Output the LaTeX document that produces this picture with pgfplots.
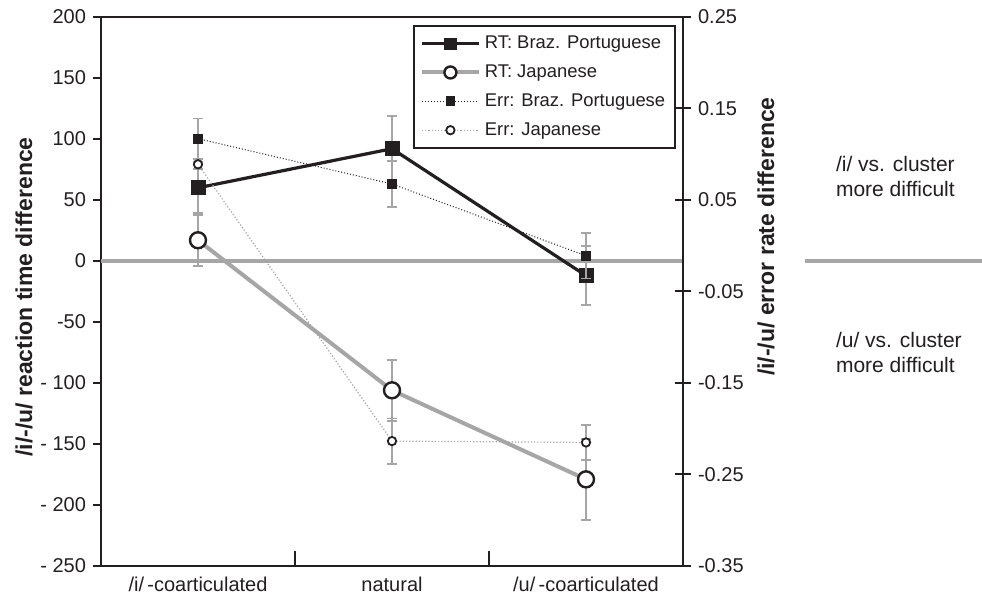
\documentclass[border=0pt]{standalone}
\usepackage{pgfplots}
\pgfplotsset{compat=1.18}
\usepackage{fontspec}
\setmainfont{Liberation Sans}
\definecolor{lgray}{HTML}{A6A6A6}
\definecolor{dk}{HTML}{231F20}
\begin{document}
\begin{tikzpicture}
\pgfplotsset{
  base/.style={
    width=291pt, height=274.5pt, scale only axis,
    xmin=-0.5, xmax=2.5,
    axis line style={dk, line width=1pt},
    tick style={dk, line width=1pt},
    ticklabel style={font=\fontsize{10}{12}\selectfont, text=dk},
    label style={font=\bfseries\fontsize{11.5}{13}\selectfont, text=dk},
    /pgf/number format/assume math mode=true,
    clip=false,
  },
  rterr/.style={error bars/.cd, y dir=both, y explicit,
    error bar style={lgray, line width=1pt, solid},
    error mark options={rotate=90, mark size=2.6pt, lgray, line width=1pt, solid}},
  ererr/.style={error bars/.cd, y dir=both, y explicit,
    error bar style={lgray, line width=0.7pt, solid},
    error mark options={rotate=90, mark size=2.6pt, lgray, line width=0.7pt, solid}},
}
% x separators
\begin{axis}[base, ymin=-250, ymax=200,
  axis line style={draw=none}, ytick=\empty,
  xtick={0.5,1.5}, xticklabels={}, xtick pos=bottom,
  tick align=inside, major tick length=7.5pt]
\end{axis}
% left axis: reaction time
\begin{axis}[base, name=A,
  ymin=-250, ymax=200,
  ytick={-250,-200,-150,-100,-50,0,50,100,150,200},
  yticklabels={- 250,- 200,- 150,- 100,-50,0,50,100,150,200},
  ytick pos=left, tick align=outside, major tick length=4pt,
  xtick={0,1,2},
  xticklabels={/i/\,-coarticulated, natural, /u/\,-coarticulated},
  xticklabel style={yshift=2pt},
  xtick pos=bottom, x tick style={draw=none},
  ylabel={/i/-/u/ reaction time difference},
  ylabel style={at={([xshift=3pt]ticklabel cs:0.49)}, anchor=near ticklabel},
]
\draw[lgray, line width=2pt] (axis cs:-0.5,0) -- (axis cs:2.5,0);
\draw[lgray, line width=2pt] ([xshift=61pt]axis cs:2.5,0) -- ([xshift=150pt]axis cs:2.5,0);
\node[anchor=west, align=left, font=\fontsize{10.5}{12.5}\selectfont, text=dk]
  at ([xshift=73pt,yshift=42pt]axis cs:2.5,0) {/i/ vs. cluster\\more difficult};
\node[anchor=west, align=left, font=\fontsize{10.5}{12.5}\selectfont, text=dk]
  at ([xshift=73pt,yshift=-46pt]axis cs:2.5,0) {/u/ vs. cluster\\more difficult};
\addplot[dk, line width=1.6pt, mark=square*, mark size=3.5pt,
  mark options={fill=dk, draw=dk, line width=0.5pt}, rterr]
  coordinates {(0,60) +- (0,21) (1,92) +- (0,27) (2,-12) +- (0,24)};
\addplot[lgray, line width=2pt, mark=*, mark size=4pt,
  mark options={fill=white, draw=dk, line width=1.2pt}, rterr]
  coordinates {(0,17) +- (0,21) (1,-106) +- (0,25) (2,-179) +- (0,33)};
\end{axis}
% right axis: error rate
\begin{axis}[base,
  ymin=-0.35, ymax=0.25,
  axis x line=none, axis y line*=right,
  ytick={-0.35,-0.25,-0.15,-0.05,0.05,0.15,0.25},
  yticklabels={-0.35,-0.25,-0.15,-0.05,0.05,0.15,0.25},
  tick align=center, major tick length=8pt,
  ylabel={/i/-/u/ error rate difference},
  ylabel style={at={(ticklabel cs:0.6)}, anchor=near ticklabel},
  legend cell align=left,
  legend image code/.code={\draw[mark repeat=2,mark phase=2,#1] plot coordinates {(0cm,0cm) (0.5cm,0cm) (1cm,0cm)};},
  legend style={at={(1,1)}, anchor=north east, xshift=-3.5pt, yshift=-4pt,
    draw=dk, line width=0.8pt, font=\fontsize{9.2}{11}\selectfont,
    row sep=2.6pt, inner sep=3pt, text=dk},
]
\addlegendimage{dk, line width=1.6pt, mark=square*, mark size=2.8pt, mark options={fill=dk, draw=dk, line width=0.5pt}}
\addlegendentry{RT: Braz. Portuguese}
\addlegendimage{lgray, line width=2pt, mark=*, mark size=3pt, mark options={fill=white, draw=dk, line width=1.2pt}}
\addlegendentry{RT: Japanese}
\addplot[dk, line width=0.5pt, densely dotted, mark=square*, mark size=2.2pt,
  mark options={solid, fill=dk, draw=dk}, ererr]
  coordinates {(0,0.117) +- (0,0.022) (1,0.0675) +- (0,0.025) (2,-0.011) +- (0,0.025)};
\addlegendentry{Err: Braz. Portuguese}
\addplot[lgray, line width=0.6pt, densely dotted, mark=*, mark size=2.1pt,
  mark options={solid, fill=white, draw=dk, line width=0.9pt}, ererr]
  coordinates {(0,0.089) +- (0,0.005) (1,-0.2135) +- (0,0.025) (2,-0.215) +- (0,0.019)};
\addlegendentry{Err: Japanese}
\end{axis}
\pgfresetboundingbox
\path[use as bounding box] ([shift={(-50.5pt,-16.5pt)}]A.south west) rectangle ([shift={(149.5pt,8.5pt)}]A.north east);
\end{tikzpicture}
\end{document}
